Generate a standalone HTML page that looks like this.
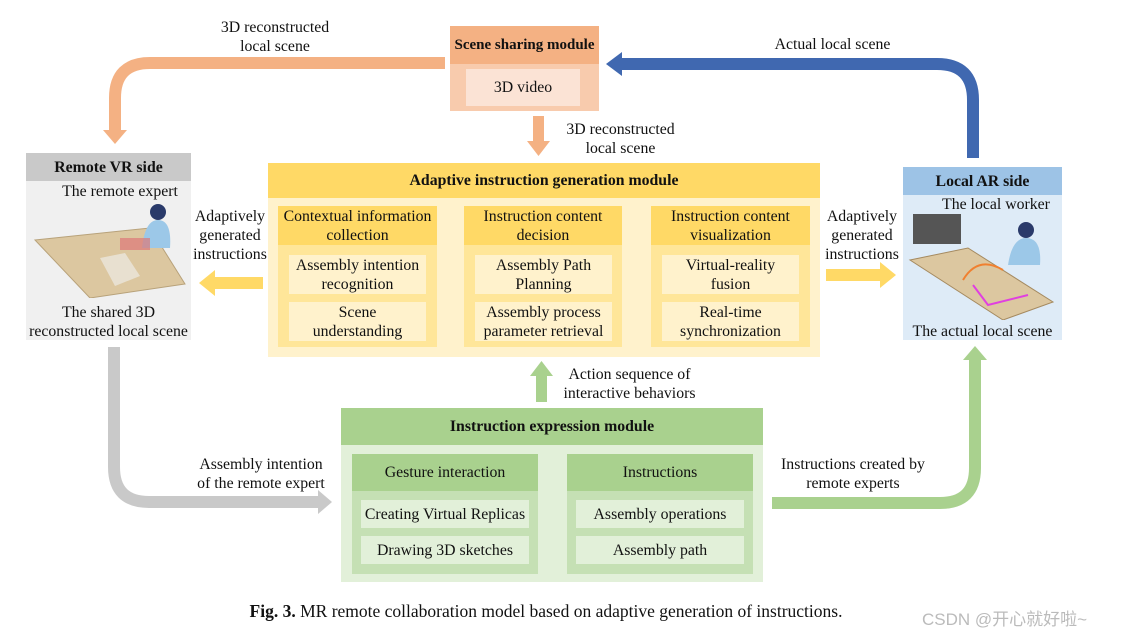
<!DOCTYPE html>
<html><head><meta charset="utf-8"><style>
body{margin:0;background:#fff;width:1130px;height:636px;position:relative;overflow:hidden;font-family:"Liberation Serif",serif;color:#111}
.b{position:absolute;box-sizing:border-box;display:flex;align-items:center;justify-content:center;text-align:center;line-height:19px;font-size:15.8px}
.t{position:absolute;text-align:center;font-size:15.8px;line-height:19px}
.bold{font-weight:bold}
</style></head><body>
<svg width="1130" height="636" style="position:absolute;left:0;top:0">
<path d="M445,63 H150 Q115,63 115,98 V132" fill="none" stroke="#f4b183" stroke-width="12"/>
<polygon points="103,130 127,130 115,144" fill="#f4b183"/>
<path d="M973,158 V100 Q973,64 937,64 H620" fill="none" stroke="#4068b0" stroke-width="12"/>
<polygon points="622,52 622,76 606,64" fill="#4068b0"/>
<path d="M114,347 V467 Q114,502 149,502 H320" fill="none" stroke="#c9c9c9" stroke-width="12"/>
<polygon points="318,490 318,514 332,502" fill="#c9c9c9"/>
<path d="M772,503 H940 Q975,503 975,468 V358" fill="none" stroke="#a9d18e" stroke-width="12"/>
<polygon points="963,360 987,360 975,346" fill="#a9d18e"/>
<polygon points="533,116 544,116 544,141 550,141 538.5,156 527,141 533,141" fill="#f4b183"/>
<polygon points="263,277 215,277 215,270 199,283 215,296 215,289 263,289" fill="#ffd966"/>
<polygon points="826,269 880,269 880,262 896,275 880,288 880,281 826,281" fill="#ffd966"/>
<polygon points="536,402 547,402 547,376 553,376 541.5,361 530,376 536,376" fill="#a9d18e"/>
<polygon points="443,269 452,269 452,263 462,275 452,287 452,281 443,281" fill="#ffd966"/>
<polygon points="628,269 637,269 637,263 647,275 637,287 637,281 628,281" fill="#ffd966"/>
<polygon points="544,502 553,502 553,496 563,508 553,520 553,514 544,514" fill="#a9d18e"/>
</svg>

<div class="t" style="left:195px;top:18px;width:160px">3D reconstructed<br>local scene</div>
<div class="t" style="left:740px;top:35px;width:185px">Actual local scene</div>
<div class="t" style="left:548px;top:120px;width:145px">3D reconstructed<br>local scene</div>

<div class="b" style="left:450px;top:26px;width:149px;height:85px;background:#f8cbad"></div>
<div class="b bold" style="left:450px;top:26px;width:149px;height:38px;background:#f4b183;font-size:15px">Scene sharing module</div>
<div class="b" style="left:466px;top:69px;width:114px;height:37px;background:#fbe3d5">3D video</div>

<div class="b" style="left:26px;top:153px;width:165px;height:187px;background:#f0f0f0"></div>
<div class="b bold" style="left:26px;top:153px;width:165px;height:28px;background:#c9c9c9">Remote VR side</div>
<div class="t" style="left:50px;top:182px;width:140px">The remote expert</div>
<svg width="160" height="100" style="position:absolute;left:30px;top:198px">
<polygon points="5,42 120,30 155,86 60,100" fill="#dcc7a0" stroke="#b8a27a"/>
<polygon points="70,60 95,55 110,78 85,88" fill="#e8e0d0"/>
<circle cx="128" cy="14" r="8" fill="#2a3a6a"/>
<path d="M112,50 Q115,22 128,22 Q142,22 140,50 Z" fill="#9cc8e8"/>
<rect x="90" y="40" width="30" height="12" fill="#d77" opacity=".7"/>
</svg>
<div class="t" style="left:22px;top:303px;width:173px">The shared 3D<br>reconstructed local scene</div>

<div class="b" style="left:903px;top:167px;width:159px;height:173px;background:#deebf7"></div>
<div class="b bold" style="left:903px;top:167px;width:159px;height:28px;background:#9dc3e6">Local AR side</div>
<div class="t" style="left:930px;top:195px;width:132px">The local worker</div>
<svg width="150" height="110" style="position:absolute;left:908px;top:210px">
<rect x="5" y="4" width="48" height="30" fill="#555"/>
<polygon points="2,50 60,38 145,92 95,110" fill="#dcc7a0" stroke="#a58a60"/>
<path d="M55,70 Q70,45 95,60" fill="none" stroke="#f08030" stroke-width="2"/>
<path d="M65,75 L80,95 L120,85" fill="none" stroke="#e040e0" stroke-width="2"/>
<circle cx="118" cy="20" r="8" fill="#2a3a6a"/>
<path d="M100,55 Q104,28 118,28 Q134,28 132,55 Z" fill="#9cc8e8"/>
</svg>
<div class="t" style="left:900px;top:322px;width:165px">The actual local scene</div>

<div class="t" style="left:186px;top:207px;width:88px">Adaptively<br>generated<br>instructions</div>
<div class="t" style="left:818px;top:207px;width:88px">Adaptively<br>generated<br>instructions</div>

<div class="b" style="left:268px;top:163px;width:552px;height:194px;background:#fff2cc"></div>
<div class="b bold" style="left:268px;top:163px;width:552px;height:35px;background:#ffd966">Adaptive instruction generation module</div>

<div class="b" style="left:278px;top:206px;width:159px;height:141px;background:#ffe699"></div>
<div class="b" style="left:278px;top:206px;width:159px;height:39px;background:#ffd966">Contextual information<br>collection</div>
<div class="b" style="left:289px;top:255px;width:137px;height:39px;background:#fff2cc">Assembly intention<br>recognition</div>
<div class="b" style="left:289px;top:302px;width:137px;height:39px;background:#fff2cc">Scene<br>understanding</div>

<div class="b" style="left:464px;top:206px;width:158px;height:141px;background:#ffe699"></div>
<div class="b" style="left:464px;top:206px;width:158px;height:39px;background:#ffd966">Instruction content<br>decision</div>
<div class="b" style="left:475px;top:255px;width:137px;height:39px;background:#fff2cc">Assembly Path<br>Planning</div>
<div class="b" style="left:475px;top:302px;width:137px;height:39px;background:#fff2cc">Assembly process<br>parameter retrieval</div>

<div class="b" style="left:651px;top:206px;width:159px;height:141px;background:#ffe699"></div>
<div class="b" style="left:651px;top:206px;width:159px;height:39px;background:#ffd966">Instruction content<br>visualization</div>
<div class="b" style="left:662px;top:255px;width:137px;height:39px;background:#fff2cc">Virtual-reality<br>fusion</div>
<div class="b" style="left:662px;top:302px;width:137px;height:39px;background:#fff2cc">Real-time<br>synchronization</div>

<div class="t" style="left:552px;top:365px;width:155px">Action sequence of<br>interactive behaviors</div>
<div class="t" style="left:176px;top:455px;width:170px">Assembly intention<br>of the remote expert</div>
<div class="t" style="left:767px;top:455px;width:172px">Instructions created by<br>remote experts</div>

<div class="b" style="left:341px;top:408px;width:422px;height:174px;background:#e2f0d9"></div>
<div class="b bold" style="left:341px;top:408px;width:422px;height:37px;background:#a9d18e">Instruction expression module</div>
<div class="b" style="left:352px;top:454px;width:186px;height:120px;background:#c5e0b4"></div>
<div class="b" style="left:352px;top:454px;width:186px;height:37px;background:#a9d18e">Gesture interaction</div>
<div class="b" style="left:361px;top:500px;width:168px;height:28px;background:#e2f0d9">Creating Virtual Replicas</div>
<div class="b" style="left:361px;top:536px;width:168px;height:28px;background:#e2f0d9">Drawing 3D sketches</div>
<div class="b" style="left:567px;top:454px;width:186px;height:120px;background:#c5e0b4"></div>
<div class="b" style="left:567px;top:454px;width:186px;height:37px;background:#a9d18e">Instructions</div>
<div class="b" style="left:576px;top:500px;width:168px;height:28px;background:#e2f0d9">Assembly operations</div>
<div class="b" style="left:576px;top:536px;width:168px;height:28px;background:#e2f0d9">Assembly path</div>

<div class="t" style="left:146px;top:601px;width:800px;font-size:17.5px;line-height:20px"><b>Fig. 3.</b> MR remote collaboration model based on adaptive generation of instructions.</div>
<div style="position:absolute;left:922px;top:605px;font-size:17px;color:#bbb;font-family:'Liberation Sans','Noto Sans CJK SC',sans-serif">CSDN @开心就好啦~</div>
</body></html>
